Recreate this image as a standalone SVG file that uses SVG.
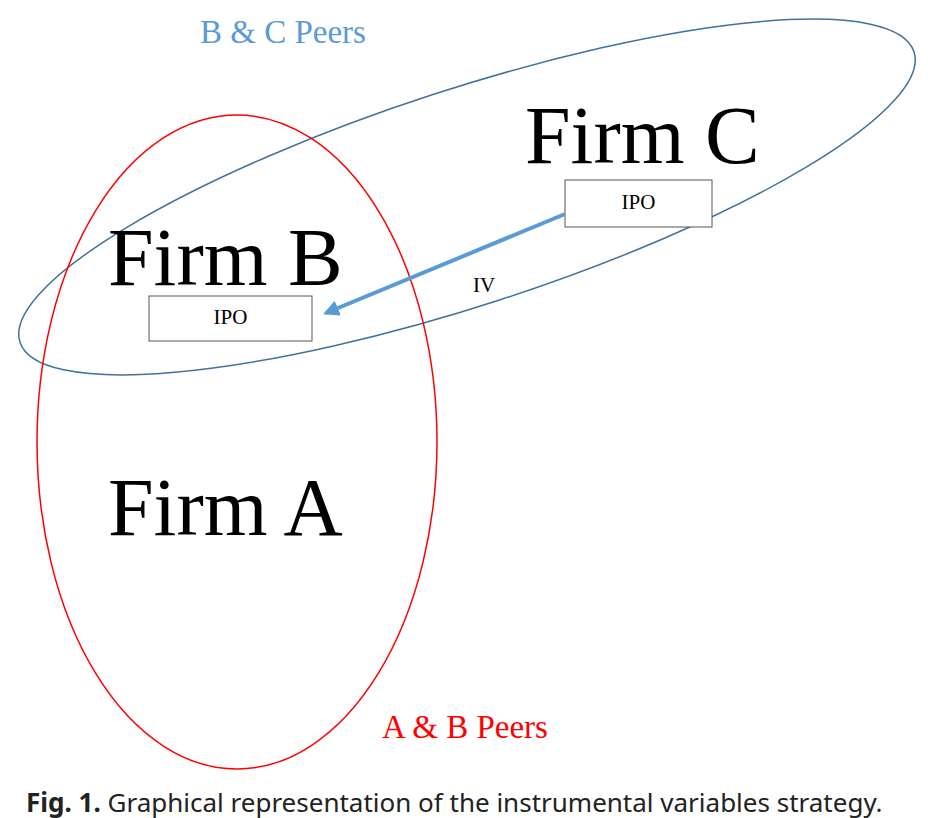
<svg xmlns="http://www.w3.org/2000/svg" width="934" height="818" viewBox="0 0 934 818">
<style>
.t{font-family:"Liberation Serif",serif}
.big{font-size:82px;fill:#000}
.box{fill:#fff;stroke:#555;stroke-width:1}
</style>
<defs><marker id="ah" viewBox="0 0 10 10" refX="8" refY="5" markerWidth="4" markerHeight="4" orient="auto"><path d="M0,0L10,5L0,10z" fill="#5b9bd5"/></marker></defs>
<rect width="934" height="818" fill="#fff"/>
<g id="bc-peers"><ellipse cx="467" cy="197" rx="470" ry="108" transform="rotate(-18 467 197)" fill="none" stroke="#41719c" stroke-width="1.5"/>
<text class="t" x="200" y="43" font-size="33" fill="#5b9bd5">B &amp; C Peers</text></g>
<g id="ab-peers"><ellipse cx="237" cy="442" rx="200" ry="327" fill="none" stroke="#f00" stroke-width="1.5"/>
<text class="t" x="382" y="738" font-size="33" fill="#f00">A &amp; B Peers</text></g>
<g id="firm-c"><text class="t big" x="525" y="163">Firm C</text>
<rect class="box" x="565" y="180" width="147" height="47"/><text class="t" x="638.5" y="209" font-size="21" text-anchor="middle">IPO</text></g>
<g id="firm-b"><text class="t big" x="108" y="285">Firm B</text>
<rect class="box" x="149" y="296" width="163" height="45"/><text class="t" x="230.5" y="324" font-size="21" text-anchor="middle">IPO</text></g>
<g id="firm-a"><text class="t big" x="108" y="535">Firm A</text></g>
<g id="connectors"><line x1="565" y1="214" x2="326" y2="313" stroke="#5b9bd5" stroke-width="4" marker-end="url(#ah)"/>
<text class="t" x="473" y="292" font-size="21">IV</text></g>
<text x="26" y="812" font-family="Noto Sans,sans-serif" font-size="26" fill="#222"><tspan font-weight="bold">Fig. 1.</tspan>  Graphical representation of the instrumental variables strategy.</text>
</svg>
